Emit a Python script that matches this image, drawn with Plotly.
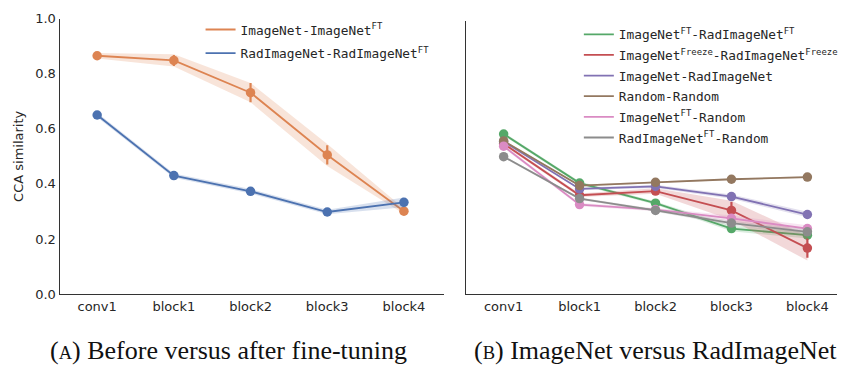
import plotly.graph_objects as go

layers = ["conv1", "block1", "block2", "block3", "block4"]
xpos = list(range(len(layers)))

# Panel A
a_names = ["ImageNet-ImageNet<sup>FT</sup>", "RadImageNet-RadImageNet<sup>FT</sup>"]
a_colors = ["#DD8452", "#4C72B0"]
a_vals = [
    [0.865, 0.848, 0.731, 0.505, 0.301],
    [0.650, 0.430, 0.373, 0.298, 0.333],
]
a_err = [
    [0.005, 0.020, 0.035, 0.035, 0.006],
    [0.004, 0.004, 0.004, 0.004, 0.012],
]
a_band = [
    [0.010, 0.022, 0.035, 0.040, 0.010],
    [0.008, 0.008, 0.008, 0.008, 0.018],
]

# Panel B
b_names = [
    "ImageNet<sup>FT</sup>-RadImageNet<sup>FT</sup>",
    "ImageNet<sup>Freeze</sup>-RadImageNet<sup>Freeze</sup>",
    "ImageNet-RadImageNet",
    "Random-Random",
    "ImageNet<sup>FT</sup>-Random",
    "RadImageNet<sup>FT</sup>-Random",
]
b_colors = ["#55A868", "#C44E52", "#8172B3", "#937860", "#DA8BC3", "#8C8C8C"]
b_vals = [
    [0.581, 0.403, 0.330, 0.238, 0.214],
    [0.546, 0.359, 0.374, 0.304, 0.167],
    [0.554, 0.382, 0.391, 0.354, 0.289],
    [0.556, 0.394, 0.406, 0.417, 0.425],
    [0.537, 0.325, 0.307, 0.275, 0.238],
    [0.499, 0.347, 0.304, 0.258, 0.226],
]
b_err = [
    [0.004, 0.004, 0.004, 0.006, 0.010],
    [0.004, 0.004, 0.006, 0.030, 0.035],
    [0.003, 0.003, 0.003, 0.004, 0.005],
    [0.003, 0.003, 0.003, 0.003, 0.003],
    [0.004, 0.004, 0.004, 0.006, 0.008],
    [0.003, 0.003, 0.003, 0.005, 0.006],
]
b_band = [
    [0.006, 0.006, 0.006, 0.010, 0.012],
    [0.006, 0.006, 0.010, 0.035, 0.045],
    [0.004, 0.004, 0.006, 0.008, 0.010],
    [0.003, 0.003, 0.003, 0.003, 0.003],
    [0.006, 0.006, 0.006, 0.010, 0.012],
    [0.004, 0.004, 0.005, 0.008, 0.010],
]

def rgba(hexc, a):
    h = hexc.lstrip("#")
    r, g, b = int(h[0:2], 16), int(h[2:4], 16), int(h[4:6], 16)
    return f"rgba({r},{g},{b},{a})"

fig = go.Figure()

def add_series(idx, name, color, vals, err, band, xa, ya, lg):
    upper = [v + e for v, e in zip(vals, band)]
    lower = [v - e for v, e in zip(vals, band)]
    fig.add_trace(go.Scatter(
        x=xpos + xpos[::-1], y=upper + lower[::-1], fill="toself",
        fillcolor=rgba(color, 0.22), line=dict(width=0), mode="lines",
        hoverinfo="skip", showlegend=False, xaxis=xa, yaxis=ya))
    fig.add_trace(go.Scatter(
        x=xpos, y=vals, mode="lines+markers", name=name,
        line=dict(color=color, width=1.8),
        marker=dict(color=color, size=9.5),
        error_y=dict(type="data", array=err, color=color, thickness=2.2, width=0),
        showlegend=False, xaxis=xa, yaxis=ya))
    # legend entry (line only)
    fig.add_trace(go.Scatter(
        x=[None], y=[None], mode="lines", name=name,
        line=dict(color=color, width=1.8), legendgroup=f"{lg}_{idx}",
        xaxis=xa, yaxis=ya, legend=lg, showlegend=True))

for i, (n, c, v, e, b) in enumerate(zip(a_names, a_colors, a_vals, a_err, a_band)):
    add_series(i, n, c, v, e, b, "x", "y", "legend")
for i, (n, c, v, e, b) in enumerate(zip(b_names, b_colors, b_vals, b_err, b_band)):
    add_series(i, n, c, v, e, b, "x2", "y2", "legend2")

W, H = 843, 378
axis_common = dict(showgrid=False, zeroline=False, showline=True,
                   linecolor="#333333", linewidth=1.3, ticks="",
                   tickfont=dict(family="DejaVu Sans", size=13, color="#262626"))

legend_font = dict(family="DejaVu Sans Mono", size=12.8, color="#262626")

fig.update_layout(
    width=W, height=H, margin=dict(l=0, r=0, t=0, b=0),
    plot_bgcolor="white", paper_bgcolor="white",
    xaxis=dict(domain=[60 / W, 447 / W], range=[-0.49, 4.52],
               tickvals=xpos, ticktext=layers, anchor="y", **axis_common),
    yaxis=dict(domain=[79 / H, 366 / H], range=[0, 1.0],
               tickvals=[0, 0.2, 0.4, 0.6, 0.8, 1.0],
               ticktext=["0.0", "0.2", "0.4", "0.6", "0.8", "1.0"],
               title=dict(text="CCA similarity", standoff=8,
                          font=dict(family="DejaVu Sans", size=13, color="#262626")),
               anchor="x", **axis_common),
    xaxis2=dict(domain=[469 / W, 1.0], range=[-0.5, 4.39],
                tickvals=xpos, ticktext=layers, anchor="y2", **axis_common),
    yaxis2=dict(domain=[79 / H, 363 / H], range=[0, 0.99],
                showticklabels=False, anchor="x2", **axis_common),
    legend=dict(x=202 / W, y=1 - 8 / H, xanchor="left", yanchor="top",
                bgcolor="rgba(0,0,0,0)", tracegroupgap=4,
                font=legend_font, itemwidth=30),
    legend2=dict(x=583 / W, y=1 - 13 / H, xanchor="left", yanchor="top",
                 bgcolor="rgba(0,0,0,0)", tracegroupgap=1,
                 font=legend_font, itemwidth=30),
    showlegend=True,
    annotations=[
        dict(text="(<span style='font-size:18.5px'>A</span>) Before versus after fine-tuning",
             x=48 / W, y=1 - 358 / H, xref="paper", yref="paper",
             xanchor="left", yanchor="middle", showarrow=False,
             font=dict(family="Liberation Serif", size=26, color="#111111")),
        dict(text="(<span style='font-size:18.5px'>B</span>) ImageNet versus RadImageNet",
             x=475 / W, y=1 - 358 / H, xref="paper", yref="paper",
             xanchor="left", yanchor="middle", showarrow=False,
             font=dict(family="Liberation Serif", size=26, color="#111111")),
    ],
)

fig.write_html("out.html")
